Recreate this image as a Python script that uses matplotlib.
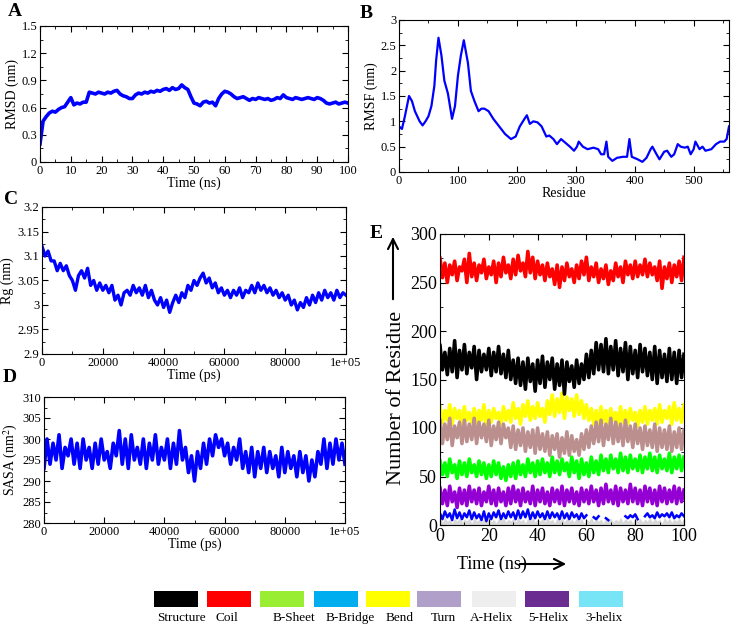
import numpy as np
import matplotlib
matplotlib.use("Agg")
import matplotlib.pyplot as plt
from matplotlib.patches import Rectangle
from matplotlib.ticker import MultipleLocator, FormatStrFormatter

plt.rcParams['font.family'] = ['Liberation Serif', 'DejaVu Serif']
plt.rcParams['mathtext.fontset'] = 'stix'

nan = np.nan

# ---- A: RMSD (nm), one value per ns
rmsd = [0.20, 0.45, 0.50, 0.54, 0.56, 0.55, 0.58, 0.60, 0.61, 0.66, 0.71, 0.63, 0.65, 0.64, 0.66,
        0.66, 0.77, 0.76, 0.75, 0.77, 0.76, 0.75, 0.77, 0.76, 0.78, 0.79, 0.75, 0.73, 0.72, 0.70,
        0.70, 0.74, 0.76, 0.75, 0.77, 0.76, 0.78, 0.77, 0.79, 0.78, 0.80, 0.81, 0.79, 0.82, 0.80,
        0.81, 0.85, 0.82, 0.80, 0.72, 0.65, 0.64, 0.62, 0.66, 0.67, 0.65, 0.66, 0.62, 0.70, 0.75,
        0.78, 0.77, 0.75, 0.72, 0.70, 0.71, 0.72, 0.70, 0.68, 0.70, 0.69, 0.71, 0.70, 0.69, 0.70,
        0.68, 0.69, 0.71, 0.70, 0.74, 0.71, 0.70, 0.69, 0.71, 0.70, 0.69, 0.70, 0.71, 0.70, 0.69,
        0.71, 0.70, 0.68, 0.65, 0.64, 0.65, 0.66, 0.64, 0.65, 0.66, 0.65]

# ---- B: RMSF (nm) per residue
res_idx = [0, 5, 10, 17, 22, 27, 35, 40, 45, 50, 55, 60, 63, 67, 72, 77, 83, 90, 95, 100, 105,
           110, 117, 122, 128, 135, 140, 145, 152, 160, 170, 180, 190, 198, 205, 213, 217, 222,
           228, 235, 242, 250, 255, 262, 268, 275, 280, 290, 297, 302, 305, 312, 320, 330, 338,
           343, 348, 352, 355, 362, 370, 380, 387, 391, 395, 405, 413, 420, 427, 430, 437, 442,
           450, 455, 462, 467, 473, 478, 485, 490, 495, 500, 503, 510, 515, 520, 530, 538, 545,
           552, 556, 560]
rmsf = [0.90, 0.85, 1.10, 1.50, 1.40, 1.20, 1.00, 0.92, 1.00, 1.10, 1.30, 1.70, 2.20, 2.65, 2.30,
        1.80, 1.55, 1.05, 1.30, 1.90, 2.30, 2.60, 2.15, 1.60, 1.40, 1.20, 1.25, 1.25, 1.20, 1.05,
        0.90, 0.75, 0.65, 0.70, 0.90, 1.05, 1.12, 0.95, 1.00, 0.98, 0.90, 0.70, 0.72, 0.65, 0.55,
        0.65, 0.60, 0.50, 0.42, 0.50, 0.60, 0.50, 0.45, 0.48, 0.45, 0.35, 0.35, 0.60, 0.30, 0.22,
        0.28, 0.30, 0.30, 0.65, 0.30, 0.25, 0.20, 0.28, 0.45, 0.50, 0.35, 0.25, 0.40, 0.42, 0.30,
        0.35, 0.55, 0.50, 0.48, 0.50, 0.35, 0.45, 0.60, 0.45, 0.50, 0.42, 0.45, 0.55, 0.60, 0.60,
        0.65, 0.90]

# ---- C: Rg (nm), every 1000 ps
rg = [3.12, 3.10, 3.11, 3.09, 3.09, 3.07, 3.085, 3.07, 3.08, 3.06, 3.05, 3.03, 3.06, 3.07, 3.055,
      3.075, 3.04, 3.05, 3.03, 3.045, 3.03, 3.04, 3.025, 3.04, 3.01, 3.02, 3.00, 3.025, 3.03, 3.02,
      3.04, 3.025, 3.035, 3.02, 3.04, 3.015, 3.03, 3.01, 3.00, 3.015, 2.995, 3.01, 2.985, 3.005,
      3.02, 3.005, 3.025, 3.015, 3.04, 3.03, 3.05, 3.04, 3.055, 3.065, 3.045, 3.055, 3.035, 3.045,
      3.025, 3.035, 3.02, 3.03, 3.015, 3.03, 3.02, 3.035, 3.015, 3.03, 3.025, 3.04, 3.025, 3.045,
      3.03, 3.04, 3.025, 3.035, 3.02, 3.03, 3.015, 3.025, 3.01, 3.02, 3.0, 3.01, 2.99, 3.005, 2.995,
      3.015, 3.0, 3.02, 3.005, 3.025, 3.01, 3.03, 3.015, 3.025, 3.01, 3.03, 3.015, 3.025, 3.02]

# ---- D: SASA (nm^2), every 1000 ps
sasa = [293, 300, 294, 299, 295, 301, 293, 298, 296, 300, 294, 299, 293, 300, 295, 298, 293, 299,
        294, 300, 295, 297, 293, 299, 296, 302, 294, 300, 293, 301, 295, 298, 294, 300, 293, 299,
        295, 301, 294, 298, 295, 300, 293, 299, 294, 302, 295, 298, 292, 296, 290, 297, 293, 299,
        294, 300, 296, 301, 298, 300, 296, 299, 294, 298, 295, 300, 293, 297, 292, 298, 291, 297,
        293, 298, 292, 297, 293, 296, 291, 298, 292, 297, 293, 296, 291, 297, 292, 296, 290, 295,
        291, 297, 294, 300, 293, 299, 294, 300, 295, 299, 294]

# ---- E: secondary structure counts, one value per ns
coil = [275, 255, 270, 250, 268, 258, 272, 252, 266, 262, 274, 250, 280, 256, 270, 252, 268, 260,
        274, 254, 266, 258, 272, 250, 270, 256, 276, 260, 268, 254, 274, 258, 278, 262, 270, 256,
        282, 260, 276, 254, 272, 258, 268, 252, 270, 256, 264, 248, 268, 245, 266, 252, 270, 256,
        264, 250, 268, 254, 272, 258, 276, 252, 266, 256, 270, 250, 264, 254, 268, 248, 262, 252,
        270, 256, 266, 250, 272, 258, 268, 254, 272, 256, 268, 258, 274, 256, 270, 258, 266, 252,
        272, 244, 266, 254, 270, 250, 268, 256, 272, 252, 276]
structure = [185, 160, 178, 155, 182, 158, 190, 152, 180, 160, 186, 156, 178, 162, 184, 150, 180,
             158, 176, 160, 182, 154, 178, 158, 184, 156, 176, 152, 180, 150, 170, 146, 172, 144,
             168, 140, 172, 148, 166, 138, 170, 146, 174, 142, 168, 150, 172, 140, 166, 144, 170,
             135, 168, 148, 164, 142, 170, 146, 166, 150, 176, 152, 180, 156, 188, 160, 186, 158,
             192, 156, 184, 160, 190, 154, 182, 158, 188, 150, 184, 156, 180, 152, 186, 158, 182,
             154, 178, 150, 184, 146, 180, 152, 176, 148, 182, 150, 178, 146, 180, 152, 176]
bend = [122, 105, 118, 108, 124, 104, 120, 110, 118, 102, 122, 108, 116, 106, 120, 104, 118, 108,
        124, 102, 118, 106, 120, 110, 116, 104, 122, 108, 118, 106, 126, 110, 120, 104, 124, 112,
        128, 108, 122, 110, 126, 112, 120, 106, 128, 114, 134, 112, 130, 116, 136, 110, 132, 118,
        130, 112, 134, 114, 128, 110, 124, 108, 120, 104, 118, 102, 122, 106, 118, 104, 120, 108,
        116, 102, 122, 106, 118, 104, 120, 108, 116, 102, 118, 106, 122, 104, 118, 108, 120, 104,
        124, 106, 118, 110, 122, 104, 126, 108, 120, 106, 124]
turn = [108, 84, 104, 88, 110, 82, 102, 90, 106, 84, 108, 86, 104, 88, 110, 84, 106, 90, 104, 86,
        108, 82, 102, 88, 106, 84, 104, 90, 100, 80, 102, 78, 98, 82, 100, 76, 96, 80, 98, 74,
        100, 78, 94, 76, 96, 72, 92, 78, 94, 70, 90, 74, 96, 72, 92, 76, 88, 72, 94, 78, 98, 80,
        102, 84, 106, 86, 108, 82, 104, 88, 110, 84, 106, 86, 104, 82, 108, 86, 102, 80, 104, 84,
        100, 78, 102, 82, 98, 80, 104, 76, 100, 80, 98, 78, 102, 76, 96, 80, 100, 78, 98]
b_sheet = [66, 52, 64, 50, 68, 54, 62, 48, 66, 52, 64, 50, 68, 54, 62, 50, 66, 52, 64, 48, 62, 50,
           66, 52, 64, 48, 60, 46, 62, 50, 64, 48, 66, 52, 62, 50, 68, 54, 64, 50, 66, 52, 68, 54,
           64, 50, 70, 54, 66, 52, 68, 56, 64, 50, 70, 54, 66, 48, 68, 52, 64, 50, 70, 54, 66, 52,
           72, 56, 68, 54, 72, 58, 68, 54, 74, 56, 70, 54, 72, 58, 68, 56, 72, 54, 70, 58, 74, 56,
           70, 54, 72, 58, 68, 56, 74, 54, 70, 58, 72, 56, 70]
helix5 = [38, 22, 36, 20, 40, 24, 34, 18, 38, 22, 36, 20, 40, 24, 36, 22, 38, 20, 34, 24, 40, 22,
          36, 20, 38, 24, 34, 20, 38, 22, 40, 24, 36, 20, 38, 24, 34, 22, 40, 20, 36, 24, 38, 22,
          34, 20, 38, 24, 36, 22, 40, 20, 36, 24, 38, 22, 34, 20, 38, 24, 36, 22, 40, 24, 36, 20,
          38, 22, 42, 24, 36, 22, 40, 20, 38, 24, 36, 22, 42, 24, 38, 22, 36, 20, 40, 24, 38, 22,
          36, 20, 40, 24, 38, 22, 36, 24, 40, 22, 38, 24, 36]
b_bridge = [12, 6, 14, 8, 12, 5, 16, 7, 13, 6, 12, 8, 15, 6, 13, 7, 11, 5, 14, 4, 12, 6, 13, 8, 15,
            6, 12, 7, 14, 8, 13, 6, 15, 7, 14, 8, 16, 6, 13, 7, 14, 8, 12, 6, 14, 7, 13, 8, 12, 6,
            14, 7, 12, 6, 13, 8, 11, 6, 12, 7, 10, nan, nan, 8, 6, 9, nan, nan, 7, 5, nan, nan,
            nan, 6, nan, nan, 9, 7, 10, 8, 11, 6, nan, nan, 9, 12, 8, 10, 7, 13, 8, 11, 9, 12, 8,
            13, 7, 10, 8, 12, 9]
a_helix = [7, 3, 8, 4, 6, 2, 7, 4, 8, 3, 6, 4, 7, 2, 8, 4, 6, 3, 7, 4, 8, 3, 6, 2, 7, 4, 8, 3, 6, 4,
           7, 3, 8, 4, 6, 2, 7, 4, 8, 3, 6, 4, 7, 3, 8, 4, 6, 2, 7, 4, 8, 3, 7, 4, 6, 3, 8, 4, 7, 2,
           6, 4, 8, 3, 7, 4, 6, 2, 8, 4, 7, 3, 6, 4, 8, 3, 7, 4, 6, 2, 8, 4, 7, 3, 6, 4, 8, 3, 7, 4,
           6, 2, 8, 4, 7, 3, 6, 4, 8, 3, 7]

legend_names = ["Structure", "Coil", "B-Sheet", "B-Bridge", "Bend", "Turn", "A-Helix", "5-Helix", "3-helix"]
legend_colors = ["#000000", "#ff0000", "#99ee33", "#00aeef", "#ffff00", "#b09fc8", "#eeeeee", "#6a2c91", "#77e5f5"]

W, H = 737, 627
fig = plt.figure(figsize=(W / 100, H / 100), dpi=100)


def px_axes(l, t, r, b):
    return fig.add_axes([l / W, 1 - b / H, (r - l) / W, (b - t) / H])


def style(ax, xmin, ymin, fs=9):
    ax.xaxis.set_minor_locator(MultipleLocator(xmin))
    ax.yaxis.set_minor_locator(MultipleLocator(ymin))
    ax.tick_params(which='both', direction='in', top=True, right=True, labelsize=fs, pad=2)
    ax.tick_params(which='major', length=4)
    ax.tick_params(which='minor', length=2)
    for s in ax.spines.values():
        s.set_linewidth(0.8)
    ax.yaxis.set_major_formatter(FormatStrFormatter('%g'))


BLUE = "#0000ff"

# A
axA = px_axes(40, 26, 348, 162)
axA.plot(np.linspace(0, 100, len(rmsd)), rmsd, color=BLUE, lw=2.6)
axA.set_xlim(0, 100)
axA.set_ylim(0, 1.5)
axA.xaxis.set_major_locator(MultipleLocator(10))
axA.yaxis.set_major_locator(MultipleLocator(0.3))
style(axA, 5, 0.15)
axA.set_xlabel("Time (ns)", fontsize=10, labelpad=0)
axA.set_ylabel("RMSD (nm)", fontsize=10, labelpad=2)

# B
axB = px_axes(399, 20, 729, 172)
axB.plot(res_idx, rmsf, color=BLUE, lw=1.6)
axB.set_xlim(0, 560)
axB.set_ylim(0, 3)
axB.xaxis.set_major_locator(MultipleLocator(100))
axB.yaxis.set_major_locator(MultipleLocator(0.5))
style(axB, 50, 0.25)
axB.set_xlabel("Residue", fontsize=10, labelpad=0)
axB.set_ylabel("RMSF (nm)", fontsize=10, labelpad=2)

# C
axC = px_axes(42, 207, 346, 354)
axC.plot(np.linspace(0, 1e5, len(rg)), rg, color=BLUE, lw=2.4)
axC.set_xlim(0, 1e5)
axC.set_ylim(2.9, 3.2)
axC.set_xticks([0, 20000, 40000, 60000, 80000, 100000])
axC.set_xticklabels(["0", "20000", "40000", "60000", "80000", "1e+05"])
axC.yaxis.set_major_locator(MultipleLocator(0.05))
style(axC, 10000, 0.025)
axC.set_xlabel("Time (ps)", fontsize=10, labelpad=0)
axC.set_ylabel("Rg (nm)", fontsize=10, labelpad=2)

# D
axD = px_axes(44, 397, 345, 523)
axD.plot(np.linspace(0, 1e5, len(sasa)), sasa, color=BLUE, lw=2.6)
axD.set_xlim(0, 1e5)
axD.set_ylim(280, 310)
axD.set_xticks([0, 20000, 40000, 60000, 80000, 100000])
axD.set_xticklabels(["0", "20000", "40000", "60000", "80000", "1e+05"])
axD.yaxis.set_major_locator(MultipleLocator(5))
style(axD, 10000, 2.5)
axD.set_xlabel("Time (ps)", fontsize=10, labelpad=0)
axD.set_ylabel("SASA (nm$^{2}$)", fontsize=10, labelpad=2)

# E
axE = px_axes(440, 234, 684, 525)
LW_E = 2.6
axE.fill_between(np.linspace(0, 100, len(a_helix)), 0, a_helix, color="#d8d8d8", lw=0)
axE.plot(np.linspace(0, 100, len(b_bridge)), b_bridge, color="#0000ff", lw=1.8)
axE.plot(np.linspace(0, 100, len(helix5)), helix5, color="#9400d3", lw=LW_E)
axE.plot(np.linspace(0, 100, len(b_sheet)), b_sheet, color="#00ff00", lw=LW_E)
axE.plot(np.linspace(0, 100, len(bend)), bend, color="#ffff00", lw=LW_E)
axE.plot(np.linspace(0, 100, len(turn)), turn, color="#bc8f8f", lw=LW_E)
axE.plot(np.linspace(0, 100, len(structure)), structure, color="#000000", lw=LW_E)
axE.plot(np.linspace(0, 100, len(coil)), coil, color="#ff0000", lw=LW_E)
axE.set_xlim(0, 100)
axE.set_ylim(0, 300)
axE.xaxis.set_major_locator(MultipleLocator(20))
axE.yaxis.set_major_locator(MultipleLocator(50))
style(axE, 10, 25, fs=13)
axE.yaxis.set_major_formatter(FormatStrFormatter('%d'))

# overlay in pixel coordinates for labels, arrows and legend
ov = fig.add_axes([0, 0, 1, 1])
ov.set_xlim(0, W)
ov.set_ylim(H, 0)
ov.axis('off')
ov.patch.set_alpha(0)

for lab, x, y in [("A", 15, 12), ("B", 366, 14), ("C", 11, 200), ("D", 10, 378), ("E", 376, 234)]:
    ov.text(x, y, lab, fontsize=14, fontweight='bold', ha='center', va='center')

ov.text(397, 398, "Number of Residue", fontsize=16, rotation=90, ha='center', va='center')
ov.annotate("", xy=(393, 234), xytext=(393, 302),
            arrowprops=dict(arrowstyle='->', lw=1.5, mutation_scale=18, color='k'))
ov.text(492, 564, "Time (ns)", fontsize=13, ha='center', va='center')
ov.annotate("", xy=(569, 564), xytext=(517, 564),
            arrowprops=dict(arrowstyle='->', lw=1.5, mutation_scale=18, color='k'))

rect_x = [154, 207, 260, 314, 366, 417, 472, 525, 579]
label_x = [181, 227, 294, 350, 400, 443, 492, 548, 604]
for name, c, rx, lx in zip(legend_names, legend_colors, rect_x, label_x):
    ov.add_patch(Rectangle((rx, 591), 44, 16, facecolor=c, edgecolor='none'))
    ov.text(lx, 618, name, fontsize=9.5, ha='center', va='center')

fig.savefig("out.png", dpi=100)
